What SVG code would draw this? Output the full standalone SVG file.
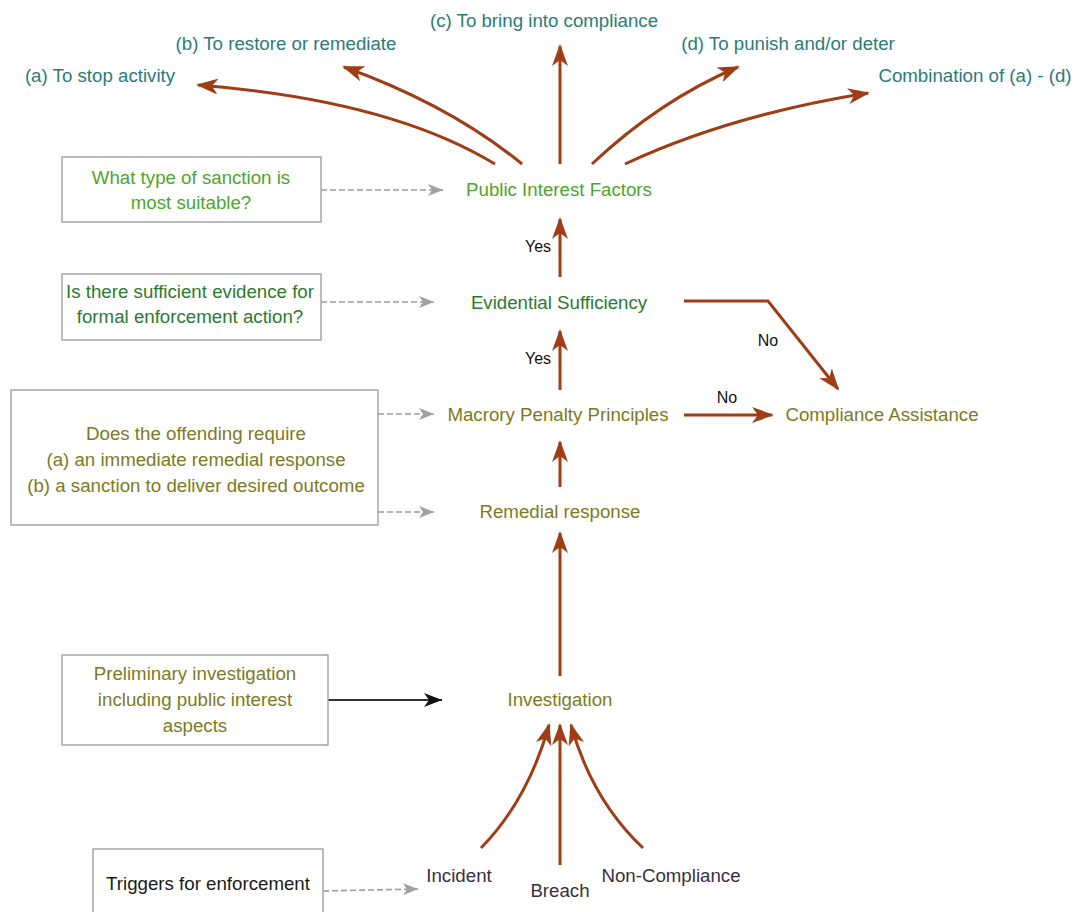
<svg xmlns="http://www.w3.org/2000/svg" width="1080" height="912" viewBox="0 0 1080 912">
<style>
text{font-family:"Liberation Sans",Arial,sans-serif;font-size:18.7px;text-anchor:middle}
.teal{fill:#2b7b78}
.lg{fill:#4ea52c}
.dg{fill:#2b7a2e}
.ol{fill:#7b7b22}
.dk{fill:#3a2f3e}
.yn{fill:#111;font-size:16px}
.box{fill:#fff;stroke:#a6a6a6;stroke-width:1.5}
.br{fill:none;stroke:#9e3d16;stroke-width:3}
.gd{fill:none;stroke:#9c9c9c;stroke-width:1.6;stroke-dasharray:6 3}
.bk{fill:none;stroke:#333;stroke-width:2}
</style>
<defs>
<marker id="ab" viewBox="0 0 22 16" refX="20" refY="8" markerWidth="22" markerHeight="16" markerUnits="userSpaceOnUse" orient="auto">
<path d="M0,0 L22,8 L0,16 L6,8 z" fill="#9e3d16"/>
</marker>
<marker id="ag" viewBox="0 0 15 12" refX="15" refY="6" markerWidth="15" markerHeight="12" markerUnits="userSpaceOnUse" orient="auto">
<path d="M0,0 L15,6 L0,12 L4,6 z" fill="#a0a0a0"/>
</marker>
<marker id="ak" viewBox="0 0 18 14" refX="18" refY="7" markerWidth="18" markerHeight="14" markerUnits="userSpaceOnUse" orient="auto">
<path d="M0,0 L18,7 L0,14 L5,7 z" fill="#111"/>
</marker>
</defs>
<rect width="1080" height="912" fill="#fff"/>

<g id="connectors">
<path class="br" d="M495,164 Q390,100 198,85" marker-end="url(#ab)"/>
<path class="br" d="M522,164 Q450,105 344,67" marker-end="url(#ab)"/>
<path class="br" d="M560,164 L560,46" marker-end="url(#ab)"/>
<path class="br" d="M592,164 Q660,100 738,67" marker-end="url(#ab)"/>
<path class="br" d="M625,164 Q730,115 868,93" marker-end="url(#ab)"/>
<path class="br" d="M560,277 L560,219" marker-end="url(#ab)"/>
<path class="br" d="M560,390 L560,331" marker-end="url(#ab)"/>
<path class="br" d="M560,487 L560,442" marker-end="url(#ab)"/>
<path class="br" d="M560,676 L560,533" marker-end="url(#ab)"/>
<path class="br" d="M684,301 L768,301 L838,389" marker-end="url(#ab)"/>
<path class="br" d="M684,415 L772,415" marker-end="url(#ab)"/>
<path class="br" d="M481,848 Q528,800 549,725" marker-end="url(#ab)"/>
<path class="br" d="M560,865 L560,725" marker-end="url(#ab)"/>
<path class="br" d="M643,848 Q592,800 571,725" marker-end="url(#ab)"/>
<path class="gd" d="M321,190 L443,190" marker-end="url(#ag)"/>
<path class="gd" d="M321,302 L434,302" marker-end="url(#ag)"/>
<path class="gd" d="M378,414 L434,414" marker-end="url(#ag)"/>
<path class="gd" d="M378,512 L434,512" marker-end="url(#ag)"/>
<path class="gd" d="M323,891 L418,889" marker-end="url(#ag)"/>
<path class="bk" d="M328,700 L442,700" marker-end="url(#ak)"/>
<text class="yn" x="538" y="252">Yes</text>
<text class="yn" x="538" y="364">Yes</text>
<text class="yn" x="768" y="346">No</text>
<text class="yn" x="727" y="403">No</text>
</g>

<g id="out-a"><text class="teal" x="100" y="82">(a) To stop activity</text></g>
<g id="out-b"><text class="teal" x="286" y="50">(b) To restore or remediate</text></g>
<g id="out-c"><text class="teal" x="544" y="27">(c) To bring into compliance</text></g>
<g id="out-d"><text class="teal" x="788" y="50">(d) To punish and/or deter</text></g>
<g id="out-comb"><text class="teal" x="975" y="82">Combination of (a) - (d)</text></g>

<g id="public-interest"><text class="lg" x="559" y="196">Public Interest Factors</text></g>
<g id="evidential"><text class="dg" x="559" y="309">Evidential Sufficiency</text></g>
<g id="macrory"><text class="ol" x="558" y="421">Macrory Penalty Principles</text></g>
<g id="compliance"><text class="ol" x="882" y="421">Compliance Assistance</text></g>
<g id="remedial"><text class="ol" x="560" y="518">Remedial response</text></g>
<g id="investigation"><text class="ol" x="560" y="706">Investigation</text></g>
<g id="incident"><text class="dk" x="459" y="882">Incident</text></g>
<g id="breach"><text class="dk" x="560" y="897">Breach</text></g>
<g id="noncompliance"><text class="dk" x="671" y="882">Non-Compliance</text></g>

<g id="q-sanction">
<rect class="box" x="62" y="157" width="259" height="65"/>
<text class="lg" x="191" y="184">What type of sanction is</text>
<text class="lg" x="191" y="209">most suitable?</text>
</g>
<g id="q-evidence">
<rect class="box" x="62" y="274" width="259" height="66"/>
<text class="dg" x="190" y="298">Is there sufficient evidence for</text>
<text class="dg" x="190" y="323">formal enforcement action?</text>
</g>
<g id="q-offending">
<rect class="box" x="11" y="390" width="367" height="135"/>
<text class="ol" x="196" y="440">Does the offending require</text>
<text class="ol" x="196" y="466">(a) an immediate remedial response</text>
<text class="ol" x="196" y="492">(b) a sanction to deliver desired outcome</text>
</g>
<g id="preliminary">
<rect class="box" x="62" y="655" width="266" height="90"/>
<text class="ol" x="195" y="680">Preliminary investigation</text>
<text class="ol" x="195" y="706">including public interest</text>
<text class="ol" x="195" y="732">aspects</text>
</g>
<g id="triggers">
<rect class="box" x="93" y="849" width="230" height="80"/>
<text fill="#1a1a1a" x="208" y="890">Triggers for enforcement</text>
</g>
</svg>
